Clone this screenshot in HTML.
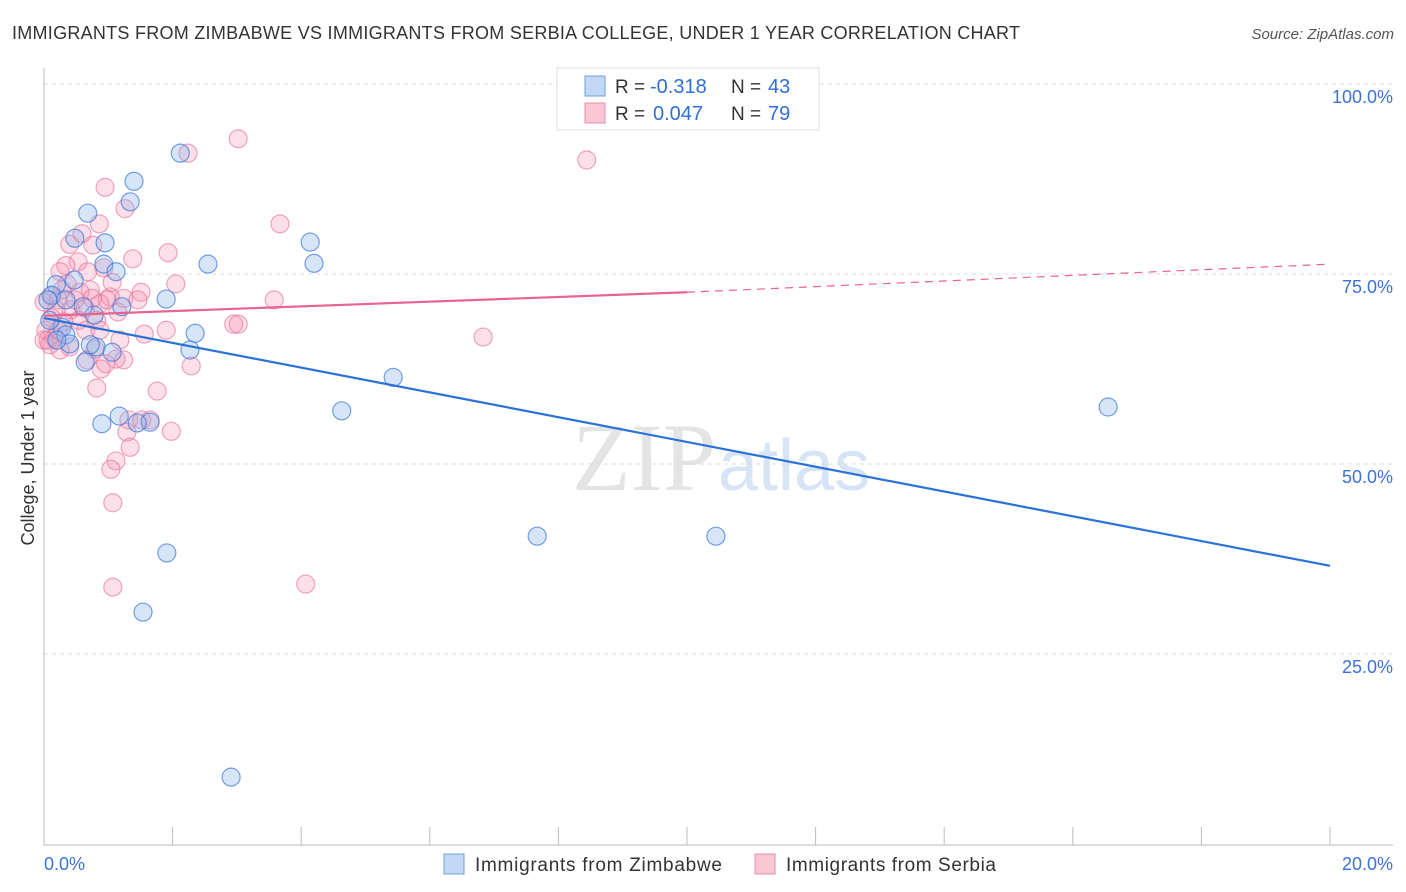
<!DOCTYPE html>
<html><head><meta charset="utf-8"><style>
body{margin:0;background:#fff;font-family:"Liberation Sans",sans-serif;}
svg{display:block}
</style></head><body>
<svg id="chart" width="1406" height="892">
<text x="12" y="39" font-size="18" fill="#333" textLength="1008">IMMIGRANTS FROM ZIMBABWE VS IMMIGRANTS FROM SERBIA COLLEGE, UNDER 1 YEAR CORRELATION CHART</text>
<text x="1394" y="39" font-size="15" fill="#555" font-style="italic" text-anchor="end">Source: ZipAtlas.com</text>
<text x="716" y="490" font-size="96" fill="#e4e4e4" text-anchor="end" font-family="Liberation Serif">ZIP</text>
<text x="718" y="490" font-size="72" fill="#d6e4f5">atlas</text>
<g id="grid"></g><g id="axes"></g><g id="marks"></g>
<text transform="translate(34,458) rotate(-90)" font-size="18" fill="#333" text-anchor="middle">College, Under 1 year</text>
<g>
<rect x="557" y="68" width="262" height="62" fill="#fff" stroke="#ddd"/>
<rect x="585" y="76" width="20" height="20" fill="#c3d8f5" stroke="#6fa0e0"/>
<rect x="585" y="103" width="20" height="20" fill="#f9c6d6" stroke="#e88eaa"/>
<text x="615" y="93" font-size="19" fill="#333">R =</text>
<text x="650" y="93" font-size="20" fill="#2f6fd6">-0.318</text>
<text x="731" y="93" font-size="19" fill="#333">N =</text>
<text x="768" y="93" font-size="20" fill="#2f6fd6">43</text>
<text x="615" y="120" font-size="19" fill="#333">R =</text>
<text x="653" y="120" font-size="20" fill="#2f6fd6">0.047</text>
<text x="731" y="120" font-size="19" fill="#333">N =</text>
<text x="768" y="120" font-size="20" fill="#2f6fd6">79</text>
</g>
<g>
<rect x="444" y="854" width="20" height="20" fill="#c3d8f5" stroke="#6fa0e0"/>
<text x="475" y="871" font-size="19" fill="#333" textLength="247">Immigrants from Zimbabwe</text>
<rect x="755" y="854" width="20" height="20" fill="#f9c6d6" stroke="#e88eaa"/>
<text x="786" y="871" font-size="19" fill="#333" textLength="210">Immigrants from Serbia</text>
</g>
</svg>
<script>
const yTicks=[25,50,75,100];
const yTickLabels=["25.0%","50.0%","75.0%","100.0%"];
const xTickLabels=["0.0%","20.0%"];
const zimX=[2.12,1.40,1.34,0.68,0.48,0.95,4.14,4.20,2.55,0.93,1.12,0.47,0.19,0.12,1.90,1.21,0.78,0.61,0.28,0.34,2.35,0.40,0.81,1.06,2.27,0.64,5.43,4.63,16.55,1.17,1.65,1.45,0.90,7.67,10.45,1.91,1.54,2.91,0.06,0.09,0.34,0.20,0.72];
const zimY=[90.9,87.2,84.5,83.0,79.7,79.1,79.2,76.4,76.3,76.3,75.3,74.2,73.6,72.2,71.7,70.7,69.6,70.7,68.0,67.0,67.2,65.8,65.4,64.7,65.0,63.4,61.4,57.0,57.5,56.3,55.5,55.4,55.3,40.5,40.5,38.3,30.5,8.8,71.6,68.9,71.6,66.3,65.7];
const serX=[3.02,2.24,8.44,0.95,1.26,3.67,0.86,0.59,0.40,0.76,1.93,1.38,0.53,0.34,0.93,0.25,0.68,2.05,0.36,1.51,3.58,1.03,0.11,0.22,0.0,0.19,0.42,0.64,0.87,0.98,1.15,1.24,0.54,0.82,0.03,0.06,0.16,2.95,3.02,1.56,1.90,6.83,0.40,0.79,1.12,1.24,2.29,0.82,1.76,0.89,0.96,0.67,1.32,1.52,1.98,1.29,1.34,1.12,1.04,1.07,1.07,4.07,0.0,0.28,0.48,0.72,0.12,0.31,0.56,1.06,0.22,0.65,0.75,1.46,1.65,0.87,1.18,0.25,0.09];
const serY=[92.8,90.9,90.0,86.4,83.6,81.6,81.6,80.3,78.9,78.8,77.8,77.0,76.6,76.1,75.8,75.3,75.3,73.7,73.7,72.6,71.6,72.0,72.1,71.6,71.3,70.3,70.3,70.5,71.1,71.6,70.0,71.8,68.9,68.9,67.6,66.3,66.6,68.4,68.4,67.1,67.6,66.7,65.4,65.1,63.8,63.7,62.9,60.0,59.6,62.5,63.2,63.7,55.8,55.8,54.3,54.2,52.2,50.4,49.3,44.9,33.8,34.2,66.3,72.9,71.6,72.9,69.2,68.7,72.6,73.9,67.6,67.6,71.8,71.6,55.8,67.6,66.3,65.0,65.7];
const zimTrend=[69.2,36.6];
const serTrend=[69.5,72.6,76.3];
const X=v=>44+v*64.3, Y=v=>844-v*7.6;
const NS="http://www.w3.org/2000/svg";
function mk(t,a,p){const e=document.createElementNS(NS,t);for(const k in a)e.setAttribute(k,a[k]);p.appendChild(e);return e;}
const gridG=document.getElementById('grid'),axesG=document.getElementById('axes'),marksG=document.getElementById('marks');
yTicks.forEach((t,i)=>{
 const l=mk('line',{x1:44,x2:1393,y1:Y(t),y2:Y(t),stroke:'#ddd','stroke-dasharray':'4 4'},gridG);
 
 
 const tx=mk('text',{x:1393,y:Y(t)+19,'font-size':18,fill:'#3a72d8','text-anchor':'end'},axesG);tx.textContent=yTickLabels[i];
 
 
});
mk('line',{x1:44,x2:44,y1:68,y2:845,stroke:'#bbb'},axesG);
mk('line',{x1:44,x2:1393,y1:845,y2:845,stroke:'#bbb'},axesG);
for(let i=1;i<=10;i++){mk('line',{x1:X(i*2),x2:X(i*2),y1:827,y2:845,stroke:'#bbb'},axesG);}
const xl0=mk('text',{x:44,y:870,'font-size':18,fill:'#3a72d8'},axesG);xl0.textContent=xTickLabels[0];


const xl1=mk('text',{x:1393,y:870,'font-size':18,fill:'#3a72d8','text-anchor':'end'},axesG);xl1.textContent=xTickLabels[1];


serX.forEach((x,i)=>{const c=mk('circle',{cx:X(x),cy:Y(serY[i]),r:9,fill:'rgba(245,150,180,0.3)',stroke:'rgba(230,110,150,0.6)','stroke-width':1.2},marksG);
 
 });
zimX.forEach((x,i)=>{const c=mk('circle',{cx:X(x),cy:Y(zimY[i]),r:9,fill:'rgba(140,180,235,0.35)',stroke:'rgba(60,120,220,0.7)','stroke-width':1.2},marksG);
 
 });
const bl=mk('line',{x1:X(0),y1:Y(zimTrend[0]),x2:X(20),y2:Y(zimTrend[1]),stroke:'#2a72d8','stroke-width':2.2},marksG);


const pl=mk('line',{x1:X(0),y1:Y(serTrend[0]),x2:X(10),y2:Y(serTrend[1]),stroke:'#e8638e','stroke-width':2.2},marksG);


const pd=mk('line',{x1:X(10),y1:Y(serTrend[1]),x2:X(20),y2:Y(serTrend[2]),stroke:'#e8638e','stroke-width':1.2,'stroke-dasharray':'8 6'},marksG);


</script>
</body></html>
